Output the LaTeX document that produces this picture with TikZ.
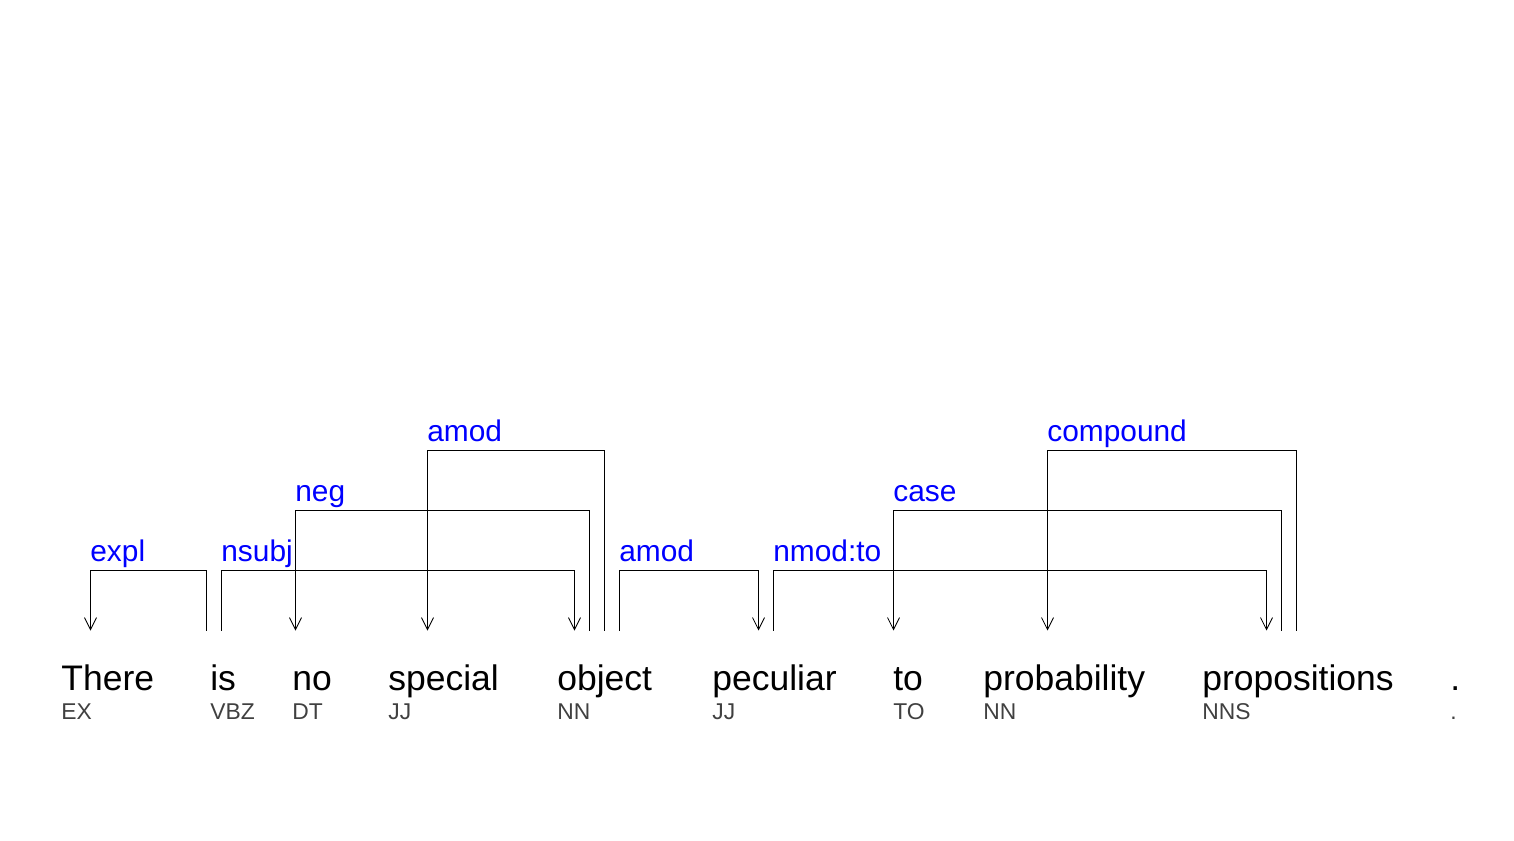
\documentclass[tikz,border=0pt]{standalone}
\usepackage{fontspec}
\setmainfont{Liberation Sans}
\usepackage{xcolor}
\usepackage{tikz}
\usetikzlibrary{arrows.meta}
\definecolor{LabelBlue}{HTML}{0000FF}
\definecolor{TagGray}{HTML}{404040}
\tikzset{
  word/.style={anchor=base west, inner sep=0pt, font=\fontsize{20.2}{24}\selectfont},
  tag/.style={anchor=base west, inner sep=0pt, text=TagGray, font=\fontsize{13}{16}\selectfont},
  deplabel/.style={anchor=base west, inner sep=0pt, text=LabelBlue, font=\fontsize{17}{20}\selectfont},
  dep/.style={line width=0.55pt, -{Straight Barb[length=2.4mm, width=2.4mm, line width=0.5pt]}},
}

\begin{document}
\begin{tikzpicture}[x=0.02cm, y=-0.02cm]%
\useasboundingbox (0,0) rectangle (1514,840);%
% words
\node[word] (There) at (61,690) {There};%
\node[word] (is) at (210,690) {is};%
\node[word] (no) at (292,690) {no};%
\node[word] (special) at (388,690) {special};%
\node[word] (object) at (557,690) {object};%
\node[word] (peculiar) at (712,690) {peculiar};%
\node[word] (to) at (893,690) {to};%
\node[word] (probability) at (983,690) {probability};%
\node[word] (propositions) at (1202,690) {propositions};%
\node[word] (dot) at (1450,690) {.};%
% tags
\node[tag] (There-t) at (61,719.5) {EX};%
\node[tag] (is-t) at (210,719.5) {VBZ};%
\node[tag] (no-t) at (292,719.5) {DT};%
\node[tag] (special-t) at (388,719.5) {JJ};%
\node[tag] (object-t) at (557,719.5) {NN};%
\node[tag] (peculiar-t) at (712,719.5) {JJ};%
\node[tag] (to-t) at (893,719.5) {TO};%
\node[tag] (probability-t) at (983,719.5) {NN};%
\node[tag] (propositions-t) at (1202,719.5) {NNS};%
\node[tag] (dot-t) at (1450,719.5) {.};%
% attachment points
\coordinate (There-a) at (90.5,630.5);%
\coordinate (is-a) at (206.5,630.5);%
\coordinate (is-b) at (221.5,630.5);%
\coordinate (no-a) at (295.5,630.5);%
\coordinate (special-a) at (427.5,630.5);%
\coordinate (object-a) at (574.5,630.5);%
\coordinate (object-b) at (589.5,630.5);%
\coordinate (object-c) at (604.5,630.5);%
\coordinate (object-d) at (619.5,630.5);%
\coordinate (peculiar-a) at (758.5,630.5);%
\coordinate (peculiar-b) at (773.5,630.5);%
\coordinate (to-a) at (893.5,630.5);%
\coordinate (probability-a) at (1047.5,630.5);%
\coordinate (propositions-a) at (1266.5,630.5);%
\coordinate (propositions-b) at (1281.5,630.5);%
\coordinate (propositions-c) at (1296.5,630.5);%
% arcs
\draw[dep] (is-a) -- ++(0,-60) -| (There-a);%
\draw[dep] (is-b) -- ++(0,-60) -| (object-a);%
\draw[dep] (object-b) -- ++(0,-120) -| (no-a);%
\draw[dep] (object-c) -- ++(0,-180) -| (special-a);%
\draw[dep] (object-d) -- ++(0,-60) -| (peculiar-a);%
\draw[dep] (peculiar-b) -- ++(0,-60) -| (propositions-a);%
\draw[dep] (propositions-b) -- ++(0,-120) -| (to-a);%
\draw[dep] (propositions-c) -- ++(0,-180) -| (probability-a);%
% labels
\node[deplabel] (expl) at (90,561) {expl};%
\node[deplabel] (nsubj) at (221,561) {nsubj};%
\node[deplabel] (neg) at (295,501) {neg};%
\node[deplabel] (amod-1) at (427,441) {amod};%
\node[deplabel] (amod-2) at (619,561) {amod};%
\node[deplabel] (nmod-to) at (773,561) {nmod:to};%
\node[deplabel] (case) at (893,501) {case};%
\node[deplabel] (compound) at (1047,441) {compound};%
\end{tikzpicture}
\end{document}
